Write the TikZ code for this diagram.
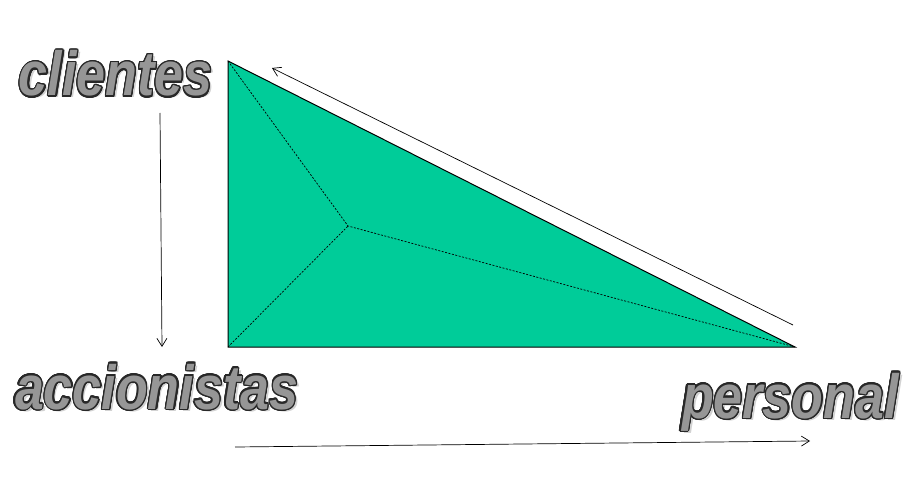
\documentclass[tikz,border=0pt]{standalone}
\usepackage{fontspec}
\setmainfont{Liberation Sans}
\usepackage{contour}
\usepackage{graphicx}
\contourlength{1.2pt}
\contournumber{24}
\usetikzlibrary{arrows.meta}
\definecolor{tri}{RGB}{0,204,153}
\definecolor{txtfill}{RGB}{150,150,150}
\definecolor{txtline}{RGB}{40,40,40}
\definecolor{shad}{RGB}{210,210,210}
\newcommand{\fancytext}[1]{\scalebox{1}[1.2]{\fontsize{52}{52}\selectfont\bfseries\itshape\contour{txtline}{\textcolor{txtfill}{#1}}}}
\newcommand{\shadtext}[1]{\scalebox{1}[1.2]{\fontsize{52}{52}\selectfont\bfseries\itshape\textcolor{shad}{#1}}}
\tikzset{
  lbl/.style={anchor=base west,inner sep=0pt,outer sep=0pt},
  arr/.style={->,>={Straight Barb[length=8pt,width=10pt]},line width=0.7pt,black},
  dashline/.style={dashed,dash pattern=on 2pt off 1.5pt,line width=0.7pt},
}
\begin{document}
\begin{tikzpicture}[x=1pt,y=-1pt]
\useasboundingbox (0,0) rectangle (918,500);
% triangle
\coordinate (A) at (228,61);
\coordinate (B) at (228,347);
\coordinate (C) at (795,347);
\coordinate (M) at (348,226);
\fill[tri] (A) -- (B) -- (C) -- cycle;
\draw[dashline] (A) -- (M) (B) -- (M) (C) -- (M);
\draw[line width=1pt] (A) -- (B) -- (C) -- cycle;
% labels
\node[lbl] at (22,98) {\shadtext{clientes}};
\node[lbl] (cl) at (19,96) {\fancytext{clientes}};
\node[lbl] at (18,411) {\shadtext{accionistas}};
\node[lbl] (ac) at (15,409) {\fancytext{accionistas}};
\node[lbl] at (685,420) {\shadtext{personal}};
\node[lbl] (pe) at (682,418) {\fancytext{personal}};
% arrows
\coordinate (v1) at (160,113);
\coordinate (v2) at (162,347);
\draw[arr] (v1) -- (v2);
\coordinate (d1) at (793,325);
\coordinate (d2) at (272,68);
\draw[arr] (d1) -- (d2);
\coordinate (h1) at (235,447);
\coordinate (h2) at (810,441);
\draw[arr] (h1) -- (h2);
\end{tikzpicture}
\end{document}
